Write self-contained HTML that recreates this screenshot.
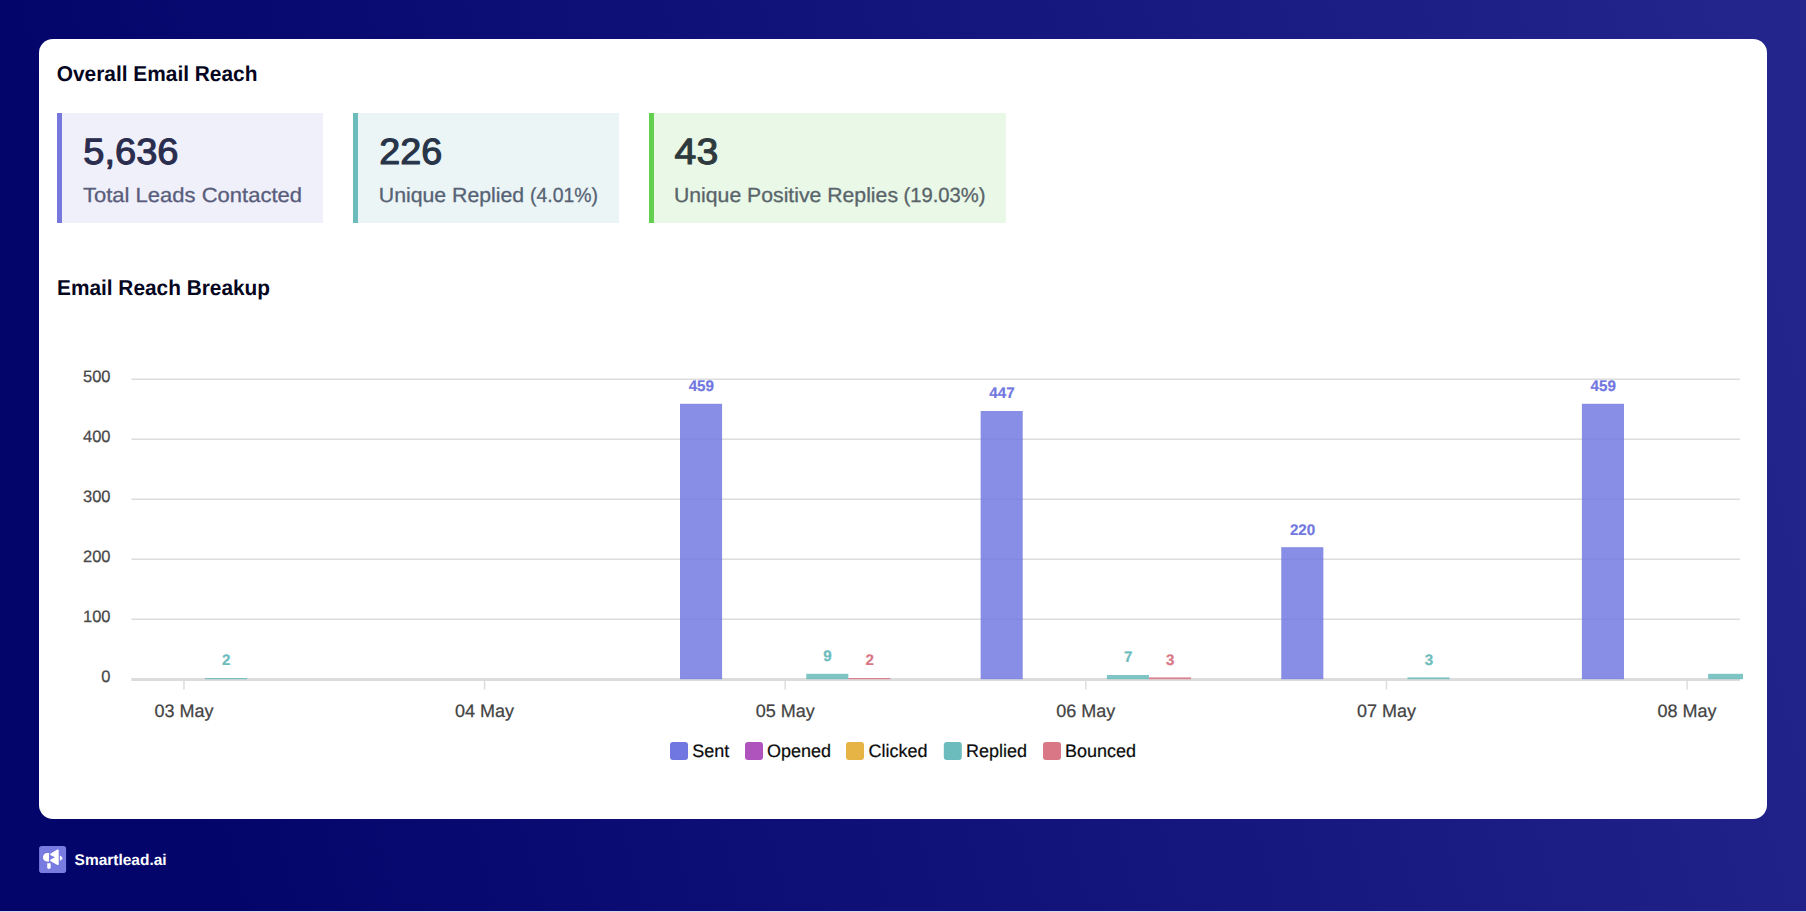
<!DOCTYPE html>
<html lang="en">
<head>
<meta charset="utf-8">
<title>Overall Email Reach</title>
<style>
*{box-sizing:border-box;margin:0;padding:0}
html,body{width:1806px;height:912px;overflow:hidden}
body{position:relative;font-family:"Liberation Sans",sans-serif;background:linear-gradient(76deg,#03056b 0%,#03056b 11%,#24258d 100%);}
.card{position:absolute;left:39px;top:39px;width:1728px;height:780px;background:#fff;border-radius:14px}
.stat{position:absolute;top:113px;height:109.5px;border-left:5px solid #7678de}
.s1{left:57px;width:266px;background:#f0f0fa}
.s2{left:353px;width:266px;background:#ecf5f6;border-left-color:#6cbcbc}
.s3{left:649px;width:357px;background:#e9f8e7;border-left-color:#62cf4e}
.bottomline{position:absolute;left:0;top:911px;width:1806px;height:1px;background:#d8d8ea}
</style>
</head>
<body>
<div class="card"></div>
<div class="stat s1"></div>
<div class="stat s2"></div>
<div class="stat s3"></div>
<svg id="chart" style="position:absolute;left:0;top:0" width="1806" height="912" viewBox="0 0 1806 912" font-family="Liberation Sans, sans-serif" text-rendering="geometricPrecision">
<rect x="131.35" y="618.45" width="1608.55" height="1.5" fill="#dcdcdc"/>
<rect x="131.35" y="558.45" width="1608.55" height="1.5" fill="#dcdcdc"/>
<rect x="131.35" y="498.45" width="1608.55" height="1.5" fill="#dcdcdc"/>
<rect x="131.35" y="438.45" width="1608.55" height="1.5" fill="#dcdcdc"/>
<rect x="131.35" y="378.45" width="1608.55" height="1.5" fill="#dcdcdc"/>
<rect x="131.35" y="678" width="1608.55" height="3" fill="#dcdcdc"/>
<text x="110.5" y="681.80" font-size="16.5" fill="#4a4a4a" stroke="#4a4a4a" stroke-width="0.25" text-anchor="end">0</text>
<text x="110.5" y="621.80" font-size="16.5" fill="#4a4a4a" stroke="#4a4a4a" stroke-width="0.25" text-anchor="end">100</text>
<text x="110.5" y="561.80" font-size="16.5" fill="#4a4a4a" stroke="#4a4a4a" stroke-width="0.25" text-anchor="end">200</text>
<text x="110.5" y="501.80" font-size="16.5" fill="#4a4a4a" stroke="#4a4a4a" stroke-width="0.25" text-anchor="end">300</text>
<text x="110.5" y="441.80" font-size="16.5" fill="#4a4a4a" stroke="#4a4a4a" stroke-width="0.25" text-anchor="end">400</text>
<text x="110.5" y="381.80" font-size="16.5" fill="#4a4a4a" stroke="#4a4a4a" stroke-width="0.25" text-anchor="end">500</text>
<rect x="183.20" y="680.20" width="1.5" height="9.3" fill="#dddddd"/>
<text x="183.95" y="717" font-size="18" fill="#444" stroke="#444" stroke-width="0.25" text-anchor="middle">03 May</text>
<rect x="483.83" y="680.20" width="1.5" height="9.3" fill="#dddddd"/>
<text x="484.58" y="717" font-size="18" fill="#444" stroke="#444" stroke-width="0.25" text-anchor="middle">04 May</text>
<rect x="784.46" y="680.20" width="1.5" height="9.3" fill="#dddddd"/>
<text x="785.21" y="717" font-size="18" fill="#444" stroke="#444" stroke-width="0.25" text-anchor="middle">05 May</text>
<rect x="1085.09" y="680.20" width="1.5" height="9.3" fill="#dddddd"/>
<text x="1085.84" y="717" font-size="18" fill="#444" stroke="#444" stroke-width="0.25" text-anchor="middle">06 May</text>
<rect x="1385.72" y="680.20" width="1.5" height="9.3" fill="#dddddd"/>
<text x="1386.47" y="717" font-size="18" fill="#444" stroke="#444" stroke-width="0.25" text-anchor="middle">07 May</text>
<rect x="1686.35" y="680.20" width="1.5" height="9.3" fill="#dddddd"/>
<text x="1687.10" y="717" font-size="18" fill="#444" stroke="#444" stroke-width="0.25" text-anchor="middle">08 May</text>
<rect x="204.99" y="678.00" width="42.08" height="1.20" fill="rgba(99,184,186,0.82)"/>
<text x="226.33" y="665.40" font-size="15.4" font-weight="700" fill="#6dbcbd" stroke="#6dbcbd" stroke-width="0.2" text-anchor="middle" textLength="8.45" lengthAdjust="spacingAndGlyphs">2</text>
<rect x="680.01" y="403.80" width="42.08" height="275.40" fill="rgba(113,119,224,0.84)"/>
<text x="701.35" y="391.20" font-size="15.4" font-weight="700" fill="#7177e0" stroke="#7177e0" stroke-width="0.2" text-anchor="middle" textLength="25.35" lengthAdjust="spacingAndGlyphs">459</text>
<rect x="806.25" y="673.80" width="42.08" height="5.40" fill="rgba(99,184,186,0.82)"/>
<text x="827.59" y="661.20" font-size="15.4" font-weight="700" fill="#6dbcbd" stroke="#6dbcbd" stroke-width="0.2" text-anchor="middle" textLength="8.45" lengthAdjust="spacingAndGlyphs">9</text>
<rect x="848.33" y="678.00" width="42.08" height="1.20" fill="rgba(217,119,134,0.9)"/>
<text x="869.67" y="665.40" font-size="15.4" font-weight="700" fill="#d97786" stroke="#d97786" stroke-width="0.2" text-anchor="middle" textLength="8.45" lengthAdjust="spacingAndGlyphs">2</text>
<rect x="980.64" y="411.00" width="42.08" height="268.20" fill="rgba(113,119,224,0.84)"/>
<text x="1001.98" y="398.40" font-size="15.4" font-weight="700" fill="#7177e0" stroke="#7177e0" stroke-width="0.2" text-anchor="middle" textLength="25.35" lengthAdjust="spacingAndGlyphs">447</text>
<rect x="1106.88" y="675.00" width="42.08" height="4.20" fill="rgba(99,184,186,0.82)"/>
<text x="1128.22" y="662.40" font-size="15.4" font-weight="700" fill="#6dbcbd" stroke="#6dbcbd" stroke-width="0.2" text-anchor="middle" textLength="8.45" lengthAdjust="spacingAndGlyphs">7</text>
<rect x="1148.96" y="677.40" width="42.08" height="1.80" fill="rgba(217,119,134,0.9)"/>
<text x="1170.30" y="664.80" font-size="15.4" font-weight="700" fill="#d97786" stroke="#d97786" stroke-width="0.2" text-anchor="middle" textLength="8.45" lengthAdjust="spacingAndGlyphs">3</text>
<rect x="1281.27" y="547.20" width="42.08" height="132.00" fill="rgba(113,119,224,0.84)"/>
<text x="1302.61" y="534.60" font-size="15.4" font-weight="700" fill="#7177e0" stroke="#7177e0" stroke-width="0.2" text-anchor="middle" textLength="25.35" lengthAdjust="spacingAndGlyphs">220</text>
<rect x="1407.51" y="677.40" width="42.08" height="1.80" fill="rgba(99,184,186,0.82)"/>
<text x="1428.85" y="664.80" font-size="15.4" font-weight="700" fill="#6dbcbd" stroke="#6dbcbd" stroke-width="0.2" text-anchor="middle" textLength="8.45" lengthAdjust="spacingAndGlyphs">3</text>
<rect x="1581.90" y="403.80" width="42.08" height="275.40" fill="rgba(113,119,224,0.84)"/>
<text x="1603.24" y="391.20" font-size="15.4" font-weight="700" fill="#7177e0" stroke="#7177e0" stroke-width="0.2" text-anchor="middle" textLength="25.35" lengthAdjust="spacingAndGlyphs">459</text>
<rect x="1708.14" y="673.80" width="34.86" height="5.40" fill="rgba(99,184,186,0.82)"/>
<rect x="670" y="742" width="18" height="18" rx="3" fill="#7177e0"/>
<text x="692.2" y="756.7" font-size="18" fill="#0c0c0c" stroke="#0c0c0c" stroke-width="0.2">Sent</text>
<rect x="745" y="742" width="18" height="18" rx="3" fill="#b054bd"/>
<text x="767" y="756.7" font-size="18" fill="#0c0c0c" stroke="#0c0c0c" stroke-width="0.2">Opened</text>
<rect x="846" y="742" width="18" height="18" rx="3" fill="#e6b445"/>
<text x="868.6" y="756.7" font-size="18" fill="#0c0c0c" stroke="#0c0c0c" stroke-width="0.2">Clicked</text>
<rect x="943.8" y="742" width="18" height="18" rx="3" fill="#6dbcbd"/>
<text x="966" y="756.7" font-size="18" fill="#0c0c0c" stroke="#0c0c0c" stroke-width="0.2">Replied</text>
<rect x="1043" y="742" width="18" height="18" rx="3" fill="#d97786"/>
<text x="1065" y="756.7" font-size="18" fill="#0c0c0c" stroke="#0c0c0c" stroke-width="0.2">Bounced</text>
<text x="56.8" y="81.2" font-size="21.5" font-weight="700" fill="#06071f" textLength="200.6" lengthAdjust="spacingAndGlyphs">Overall Email Reach</text>
<text x="57" y="294.5" font-size="21.5" font-weight="700" fill="#06071f" textLength="213" lengthAdjust="spacingAndGlyphs">Email Reach Breakup</text>
<text x="83.3" y="164.4" font-size="36.6" font-weight="400" fill="#2a2d4e" textLength="95.2" lengthAdjust="spacingAndGlyphs" stroke="#2a2d4e" stroke-width="1.1" stroke-linejoin="round">5,636</text>
<text x="379.2" y="164.4" font-size="36.6" font-weight="400" fill="#283448" textLength="63" lengthAdjust="spacingAndGlyphs" stroke="#283448" stroke-width="1.1" stroke-linejoin="round">226</text>
<text x="674.6" y="164.4" font-size="36.6" font-weight="400" fill="#2e3a3e" textLength="43.6" lengthAdjust="spacingAndGlyphs" stroke="#2e3a3e" stroke-width="1.1" stroke-linejoin="round">43</text>
<text x="83" y="202.2" font-size="20.5" font-weight="400" fill="#595d7b" textLength="219" lengthAdjust="spacingAndGlyphs" stroke="#595d7b" stroke-width="0.3">Total Leads Contacted</text>
<text y="202.2" font-size="20.5" fill="#566374" stroke="#566374" stroke-width="0.3"><tspan x="378.8" textLength="145.4" lengthAdjust="spacingAndGlyphs">Unique Replied</tspan> <tspan x="530" textLength="68" lengthAdjust="spacingAndGlyphs">(4.01%)</tspan></text>
<text y="202.2" font-size="20.5" fill="#59646a" stroke="#59646a" stroke-width="0.3"><tspan x="674" textLength="224" lengthAdjust="spacingAndGlyphs">Unique Positive Replies</tspan> <tspan x="903.5" textLength="82" lengthAdjust="spacingAndGlyphs">(19.03%)</tspan></text>
<rect x="39.1" y="846" width="27" height="27" rx="2.8" fill="#787ce0"/>
<g transform="translate(38 845) scale(0.032895)" fill="#fff"><path d="M335 240 L280 240 A130 130 0 0 0 280 500 L335 500 Z"/><path d="M372 268 L590 140 Q630 125 630 170 L630 575 Q630 620 590 605 L372 485 L372 448 L515 375 L372 302 Z"/><path d="M665 335 Q672 318 690 330 L740 385 Q752 400 740 415 L690 470 Q672 482 665 465 Z"/><path d="M280 555 L385 555 L385 675 A52 52 0 0 1 280 675 Z"/></g>
<text x="74.6" y="865.1" font-size="15.5" font-weight="700" fill="#fff" textLength="92" lengthAdjust="spacingAndGlyphs">Smartlead.ai</text>
</svg>
<div class="bottomline"></div>
</body>
</html>
